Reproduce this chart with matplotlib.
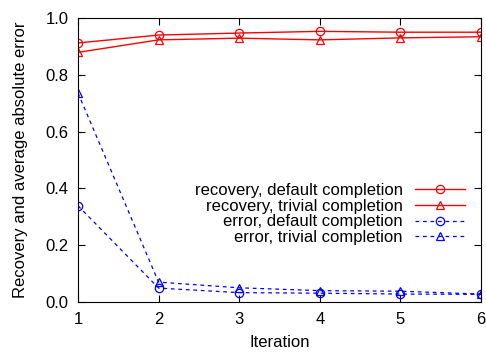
import numpy as np
import matplotlib.pyplot as plt

plt.rcParams['font.family'] = ['Liberation Sans', 'DejaVu Sans']

iteration = [1, 2, 3, 4, 5, 6]
rec_default = [0.912, 0.940, 0.947, 0.953, 0.950, 0.950]
rec_trivial = [0.879, 0.923, 0.929, 0.923, 0.930, 0.934]
err_default = [0.339, 0.049, 0.033, 0.031, 0.028, 0.027]
err_trivial = [0.736, 0.070, 0.050, 0.040, 0.038, 0.028]

fig = plt.figure(figsize=(4.86, 3.52), dpi=100)
ax = fig.add_axes([78 / 486, 50 / 352, 403 / 486, 284 / 352])

fs = 12
ms = 6
ax.plot(iteration, rec_default, '-', color='red', lw=1, marker='o', ms=ms,
        mfc='none', mew=0.9, label='recovery, default completion')
ax.plot(iteration, rec_trivial, '-', color='red', lw=1, marker='^', ms=ms,
        mfc='none', mew=0.9, label='recovery, trivial completion')
ax.plot(iteration, err_default, '--', color='blue', lw=0.9, marker='o', ms=ms,
        mfc='none', mew=0.9, dashes=(3, 3), label='error, default completion')
ax.plot(iteration, err_trivial, '--', color='blue', lw=0.9, marker='^', ms=ms,
        mfc='none', mew=0.9, dashes=(3, 3), label='error, trivial completion')

ax.set_xlim(1, 6)
ax.set_ylim(0, 1)
ax.set_xticks(iteration)
ax.set_yticks(np.arange(0, 1.01, 0.2))
ax.set_yticklabels(['0.0', '0.2', '0.4', '0.6', '0.8', '1.0'])
ax.tick_params(direction='in', top=True, right=True, labelsize=fs, length=5, pad=7)
ax.set_xlabel('Iteration', fontsize=fs, labelpad=6)
ax.set_ylabel('Recovery and average absolute error', fontsize=fs, labelpad=12)

ax.legend(loc='center right', bbox_to_anchor=(0.98, 0.31), frameon=False,
          markerfirst=False, fontsize=fs, handlelength=3.0, borderpad=0,
          labelspacing=0.05, handletextpad=0.7)

fig.savefig('out.png', dpi=100)
